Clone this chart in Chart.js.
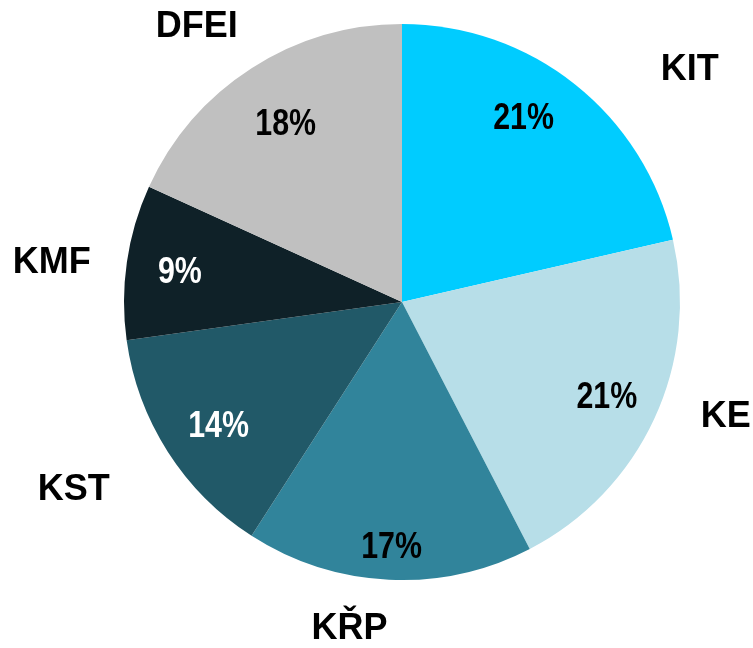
<!DOCTYPE html>
<html>
<head>
<meta charset="utf-8">
<script src="https://cdn.jsdelivr.net/npm/chart.js@4/dist/chart.umd.min.js"></script>
<style>
html,body{margin:0;padding:0;background:#fff;}
canvas{display:block;}
</style>
</head>
<body>
<canvas id="c" width="753" height="648"></canvas>
<script>
const categories = ["KIT", "KE", "KŘP", "KST", "KMF", "DFEI"];
const shares = [21.4, 21.0, 16.7, 13.7, 9.0, 18.2];
const sliceColors = ["#00CCFF", "#B7DEE8", "#31849B", "#215968", "#0F2128", "#C0C0C0"];
const pctTextColors = ["#000000", "#000000", "#000000", "#FFFFFF", "#FFFFFF", "#000000"];

const labelPlugin = {
  id: 'pieLabels',
  afterDatasetsDraw(chart, args, opts) {
    const ctx = chart.ctx;
    const meta = chart.getDatasetMeta(0);
    const data = chart.data.datasets[0].data;
    const total = data.reduce((a, b) => a + b, 0);
    meta.data.forEach((arc, i) => {
      const p = arc.getProps(['x', 'y', 'startAngle', 'endAngle', 'outerRadius'], true);
      const mid = (p.startAngle + p.endAngle) / 2;
      const cos = Math.cos(mid), sin = Math.sin(mid);
      // percentage inside (condensed)
      const rIn = p.outerRadius * opts.innerFactor;
      const pn = opts.pctNudge[i];
      const px = p.x + cos * rIn + pn[0];
      const py = p.y + sin * rIn + pn[1];
      ctx.save();
      ctx.textAlign = 'center';
      ctx.textBaseline = 'alphabetic';
      ctx.font = opts.pctFont;
      ctx.fillStyle = opts.pctColors[i];
      const pct = Math.round(data[i] / total * 100) + '%';
      ctx.translate(px, py + opts.capOffset);
      ctx.scale(opts.pctScaleX, 1);
      ctx.fillText(pct, 0, 0);
      ctx.restore();
      // category outside
      ctx.save();
      ctx.textAlign = 'center';
      ctx.textBaseline = 'alphabetic';
      const rOut = p.outerRadius + opts.outerPad;
      const ln = opts.labelNudge[i];
      const lx = p.x + cos * rOut + ln[0];
      const ly = p.y + sin * rOut + ln[1];
      ctx.font = opts.labelFont;
      ctx.fillStyle = '#000000';
      ctx.fillText(chart.data.labels[i], lx, ly + opts.capOffset);
      ctx.restore();
    });
  }
};

new Chart(document.getElementById('c'), {
  type: 'pie',
  data: {
    labels: categories,
    datasets: [{
      data: shares,
      backgroundColor: sliceColors,
      borderWidth: 0
    }]
  },
  options: {
    responsive: false,
    animation: false,
    layout: { padding: { left: 124, right: 73, top: 24, bottom: 68 } },
    plugins: {
      legend: { display: false },
      tooltip: { enabled: false },
      pieLabels: {
        innerFactor: 0.8,
        outerPad: 70,
        capOffset: 13,
        pctScaleX: 0.82,
        pctFont: 'bold 37px "Liberation Sans", Arial, sans-serif',
        labelFont: 'bold 36px "Liberation Sans", Arial, sans-serif',
        pctColors: pctTextColors,
        pctNudge: [[-17, -12], [3, 0], [0, 21], [4, 2], [-2, 0], [4, 7]],
        labelNudge: [[71, 37], [8, -34], [-36, -24], [-35, -2], [-6, 8], [-17, 15]]
      }
    }
  },
  plugins: [labelPlugin]
});
</script>
</body>
</html>
